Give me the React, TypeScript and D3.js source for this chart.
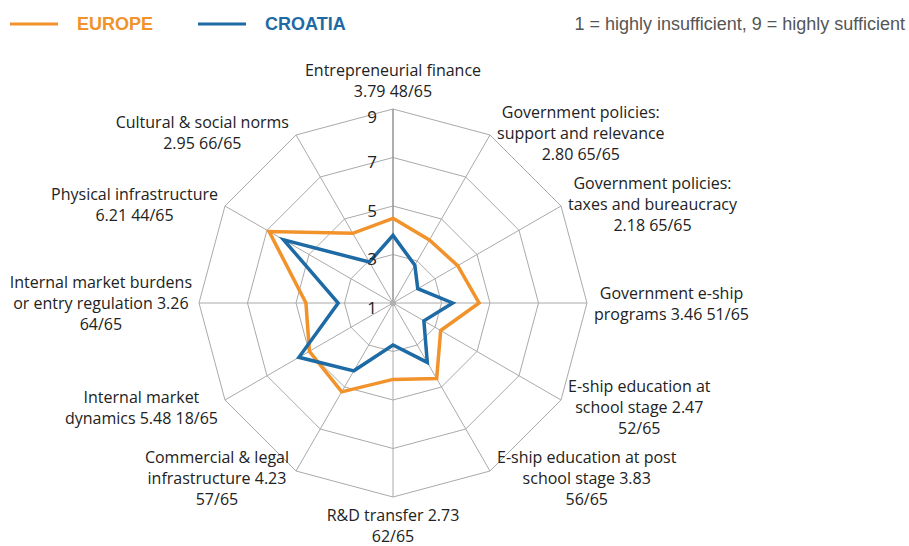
import React, { useEffect, useRef } from "react";
import * as d3 from "d3";

const categoryLines: string[][] = [
  ["Entrepreneurial finance", "3.79 48/65"],
  ["Government policies:", "support and relevance", "2.80 65/65"],
  ["Government policies:", "taxes and bureaucracy", "2.18 65/65"],
  ["Government e-ship", "programs 3.46 51/65"],
  ["E-ship education at", "school stage 2.47", "52/65"],
  ["E-ship education at post", "school stage 3.83", "56/65"],
  ["R&D transfer 2.73", "62/65"],
  ["Commercial & legal", "infrastructure 4.23", "57/65"],
  ["Internal market", "dynamics 5.48 18/65"],
  ["Internal market burdens", "or entry regulation 3.26", "64/65"],
  ["Physical infrastructure", "6.21 44/65"],
  ["Cultural & social norms", "2.95 66/65"],
];

const europe = [4.49, 4.0, 4.08, 4.55, 3.27, 4.6, 4.15, 5.23, 4.98, 4.59, 6.9, 4.32];
const croatia = [3.79, 2.8, 2.18, 3.46, 2.47, 3.83, 2.73, 4.23, 5.48, 3.26, 6.21, 2.95];
const ringTicks = [1, 3, 5, 7, 9];
const seriesNames = ["EUROPE", "CROATIA"];
const scaleNote = "1 = highly insufficient,  9 = highly sufficient";

const W = 909;
const H = 546;
const CX = 393;
const CY = 303;
const R = 194;
const ORANGE = "#F2922A";
const BLUE = "#1D6AA5";
const GRID = "#AAAAAA";
const LABEL_FONT = "'Open Sans', 'Liberation Sans', Arial, sans-serif";

export default function App() {
  const ref = useRef<SVGSVGElement | null>(null);

  useEffect(() => {
    const svg = d3.select(ref.current);
    svg.selectAll("*").remove();

    const n = categoryLines.length;
    const step = (2 * Math.PI) / n;
    const r = d3.scaleLinear().domain([1, 9]).range([0, R]);
    const angles = d3.range(n).map((i) => i * step);

    const g = svg.append("g").attr("transform", `translate(${CX},${CY})`);

    const ringLine = d3
      .lineRadial<number>()
      .angle((_, i) => angles[i])
      .radius((d) => r(d))
      .curve(d3.curveLinearClosed);

    ringTicks
      .filter((t) => t > 1)
      .forEach((t) => {
        g.append("path")
          .attr("d", ringLine(angles.map(() => t)) as string)
          .attr("fill", "none")
          .attr("stroke", GRID)
          .attr("stroke-width", 1);
      });

    angles.forEach((a, i) => {
      g.append("line")
        .attr("x1", 0)
        .attr("y1", 0)
        .attr("x2", r(9) * Math.sin(a))
        .attr("y2", -r(9) * Math.cos(a))
        .attr("stroke", i === 0 ? "#9A9A9A" : GRID)
        .attr("stroke-width", i === 0 ? 1.6 : 1);
    });
    g.append("circle").attr("r", 3).attr("fill", "#B0B0B0");

    const seriesLine = d3
      .lineRadial<number>()
      .angle((_, i) => angles[i])
      .radius((d) => r(d))
      .curve(d3.curveLinearClosed);

    [
      { data: europe, color: ORANGE },
      { data: croatia, color: BLUE },
    ].forEach((s) => {
      g.append("path")
        .attr("d", seriesLine(s.data) as string)
        .attr("fill", "none")
        .attr("stroke", s.color)
        .attr("stroke-width", 3.5)
        .attr("stroke-linejoin", "miter");
    });

    ringTicks.forEach((t) => {
      g.append("text")
        .attr("x", -16)
        .attr("y", -r(t) + (t === 9 ? 7 : 4))
        .attr("text-anchor", "end")
        .attr("dominant-baseline", "central")
        .attr("font-family", LABEL_FONT)
        .attr("font-size", 17)
        .attr("fill", "#222")
        .text(String(t));
    });

    categoryLines.forEach((lines, i) => {
      const a = angles[i];
      const sinA = Math.sin(a);
      const cosA = Math.cos(a);
      const vx = CX + R * sinA;
      const vy = CY - R * cosA;
      const lg = svg.append("g");
      const text = lg
        .append("text")
        .attr("text-anchor", "middle")
        .attr("font-family", LABEL_FONT)
        .attr("font-size", 16)
        .attr("fill", "#222");
      lines.forEach((ln, k) => {
        text
          .append("tspan")
          .attr("x", 0)
          .attr("y", k * 21)
          .text(ln);
      });
      const bb = (text.node() as SVGTextElement).getBBox();
      let tx = 0;
      let ty = 0;
      const dyAdj = cosA < -0.1 ? 7 : cosA > 0.1 ? -2 : 0;
      if (Math.abs(sinA) < 0.01) {
        tx = vx - (bb.x + bb.width / 2);
        if (cosA > 0) ty = vy - 7 - (bb.y + bb.height);
        else ty = vy + 7 - bb.y;
      } else if (sinA > 0) {
        tx = vx + 7 - bb.x;
        ty = vy - (bb.y + bb.height / 2) + dyAdj;
      } else {
        tx = vx - 7 - (bb.x + bb.width);
        ty = vy - (bb.y + bb.height / 2) + dyAdj;
      }
      lg.attr("transform", `translate(${tx},${ty})`);
    });

    const legendColors = [ORANGE, BLUE];
    const legendX = [10, 198];
    seriesNames.forEach((name, i) => {
      svg
        .append("line")
        .attr("x1", legendX[i])
        .attr("x2", legendX[i] + 48)
        .attr("y1", 24)
        .attr("y2", 24)
        .attr("stroke", legendColors[i])
        .attr("stroke-width", 3);
      svg
        .append("text")
        .attr("x", legendX[i] + 67)
        .attr("y", 24)
        .attr("dominant-baseline", "central")
        .attr("font-family", "'Liberation Sans', Arial, sans-serif")
        .attr("font-weight", "bold")
        .attr("font-size", 18)
        .attr("fill", legendColors[i])
        .text(name);
    });
    svg
      .append("text")
      .attr("x", 905)
      .attr("y", 24)
      .attr("text-anchor", "end")
      .attr("dominant-baseline", "central")
      .attr("font-family", "'Liberation Sans', Arial, sans-serif")
      .attr("font-size", 18)
      .attr("fill", "#555")
      .text(scaleNote);
  }, []);

  return (
    <svg
      ref={ref}
      width={W}
      height={H}
      style={{ position: "absolute", left: 0, top: 0, background: "#fff" }}
    />
  );
}
